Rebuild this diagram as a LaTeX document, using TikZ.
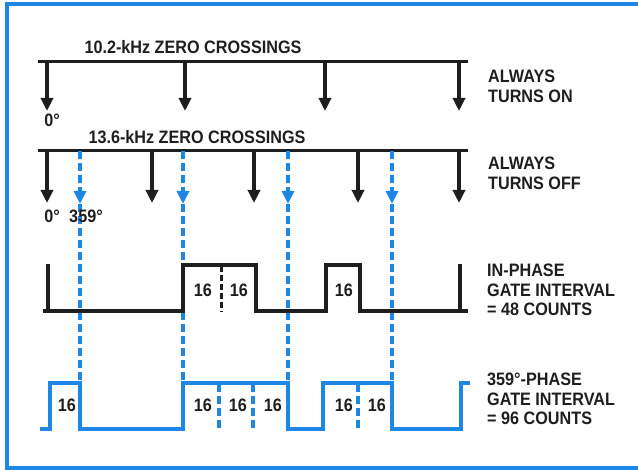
\documentclass[tikz,border=0pt]{standalone}
\usepackage{fontspec}
\setmainfont{Liberation Sans}[FakeStretch=0.9]
\usepackage{xcolor}
\usetikzlibrary{arrows.meta,positioning}
\definecolor{wblue}{RGB}{30,135,230}
\definecolor{ink}{RGB}{30,30,30}

\begin{document}
\begin{tikzpicture}[
    x=1pt, y=-1pt,
    t1/.style={font=\fontsize{18}{19.5}\selectfont\bfseries, text=ink, inner sep=0pt},
    t2/.style={t1, anchor=north west, align=left},
    rail/.style={line width=3pt, draw=ink},
    arr/.style={-{Triangle[length=13pt,width=12pt]}, line width=3.6pt, draw=ink},
    barr/.style={-{Triangle[length=13pt,width=12pt]}, line width=3.4pt, draw=wblue, dash pattern=on 8pt off 4pt},
    guide/.style={line width=3.2pt, draw=wblue, dash pattern=on 8pt off 4pt},
    kdiv/.style={line width=3pt, draw=ink, dash pattern=on 6pt off 3pt},
    wave/.style={line width=3.8pt, draw=ink},
    bwave/.style={line width=3.8pt, draw=wblue},
    frame/.style={line width=3.4pt, draw=wblue}
]
    \useasboundingbox (0,0) rectangle (638,470);
    \draw [frame] (645,4) -- (7,4) -- (7,468) -- (645,468);

    \node [t1] (ttl1) at (193,47) {10.2-kHz ZERO CROSSINGS};
    \coordinate (r1w) at (38,62);
    \coordinate (r1e) at (468,62);
    \draw [rail] (r1w) -- (r1e);
    \foreach \x in {47,185,325,459}
        \draw [arr] (\x,62) -- (\x,111);
    \node [t1] (deg1) at (52,120) {0°};
    \node [t2] (on) at (488,70) {ALWAYS\\TURNS ON};

    \node [t1] (ttl2) at (197,137) {13.6-kHz ZERO CROSSINGS};
    \coordinate (r2w) at (38,151);
    \coordinate (r2e) at (468,151);
    \draw [rail] (r2w) -- (r2e);
    \foreach \x in {47,152,254,358,459}
        \draw [arr] (\x,151) -- (\x,203);
    \foreach \x in {80,183,288,392} {
        \draw [barr] (\x,151) -- (\x,204);
        \draw [guide] (\x,204) -- (\x,383);
    }
    \node [t1] (deg2) at (52,216) {0°};
    \node [t1] (deg3) at (86,216) {359°};
    \node [t2] (off) at (488,157) {ALWAYS\\TURNS OFF};

    \draw [wave] (48,264) -- (48,311);
    \draw [wave] (43,311) -- (183,311) -- (183,265) -- (256,265) -- (256,311)
        -- (326,311) -- (326,265) -- (360,265) -- (360,311) -- (468,311);
    \draw [wave] (460,264) -- (460,311);
    \draw [kdiv] (221,266) -- (221,312);
    \node [t1] (k1) at (203,290) {16};
    \node [t1] (k2) at (239,290) {16};
    \node [t1] (k3) at (344,290) {16};
    \node [t2] (inph) at (487,264) {IN-PHASE\\GATE INTERVAL\\= 48 COUNTS};

    \draw [bwave] (40,429) -- (50,429) -- (50,383) -- (80,383) -- (80,429)
        -- (183,429) -- (183,383) -- (288,383) -- (288,429) -- (323,429)
        -- (323,383) -- (392,383) -- (392,429) -- (461,429) -- (461,383) -- (470,383);
    \foreach \x in {219,253,358}
        \draw [guide] (\x,384) -- (\x,430);
    \node [t1] (b1) at (67,405) {16};
    \node [t1] (b2) at (203,405) {16};
    \node [t1] (b3) at (238,405) {16};
    \node [t1] (b4) at (273,405) {16};
    \node [t1] (b5) at (344,405) {16};
    \node [t1] (b6) at (377,405) {16};
    \node [t2] (lag) at (487,373) {359°-PHASE\\GATE INTERVAL\\= 96 COUNTS};
\end{tikzpicture}
\end{document}
